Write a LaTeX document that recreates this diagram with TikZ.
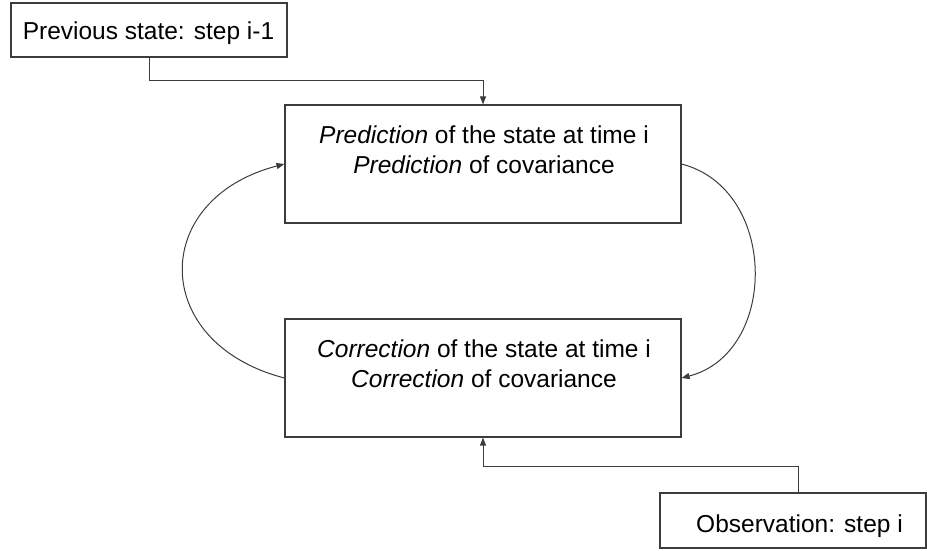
\documentclass[tikz,border=0pt]{standalone}
\usepackage{fontspec}
\setmainfont{Liberation Sans}
\usetikzlibrary{arrows.meta}

\definecolor{linegray}{RGB}{60,60,60}

\begin{document}
\begin{tikzpicture}[x=1pt,y=-1pt,
  box/.style={draw=linegray,line width=1.1pt,rectangle,inner sep=0pt},
  label/.style={font=\fontsize{24.5}{30}\selectfont,align=center,inner sep=0pt},
  link/.style={draw=linegray,line width=1pt},
  flow/.style={link,-{Triangle[length=8pt,width=6pt]}}]

  \useasboundingbox (0,0) rectangle (927,550);

  % boxes
  \node[box,minimum width=276pt,minimum height=54pt] (prev) at (149,30) {};
  \node[box,minimum width=396pt,minimum height=118pt] (pred) at (483,164) {};
  \node[box,minimum width=396pt,minimum height=118pt] (corr) at (483,378) {};
  \node[box,minimum width=266pt,minimum height=55pt] (obs) at (793,520.5) {};

  % box texts
  \node[label,anchor=base] (prevtext) at (148.5,39) {Previous state: step i-1};
  \node[label] (predtext) at (484,150) {\textit{Prediction} of the state at time i\\\textit{Prediction} of covariance};
  \node[label] (corrtext) at (484,364) {\textit{Correction} of the state at time i\\\textit{Correction} of covariance};
  \node[label,anchor=base] (obstext) at (799.5,532) {Observation: step i};

  % elbow connectors
  \coordinate (kprev) at (149,80);
  \coordinate (kobs) at (798,466);
  \draw[flow] (prev.south) -- (kprev) -| (pred.north);
  \draw[flow] (kobs |- obs.north) -- (kobs) -| (corr.south);

  % feedback loop between prediction and correction
  \draw[flow] (pred.east) .. controls +(97,25) and +(97,-25) .. (corr.east);
  \draw[flow] (corr.west) .. controls +(-135,-35) and +(-135,35) .. (pred.west);
\end{tikzpicture}
\end{document}
